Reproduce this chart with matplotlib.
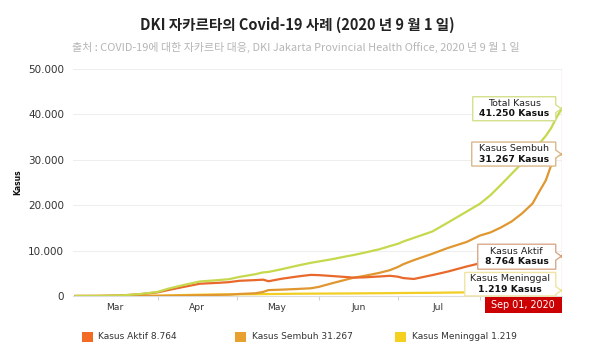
import matplotlib
matplotlib.use("Agg")
import matplotlib.pyplot as plt
import matplotlib.dates as mdates
from matplotlib.patches import Polygon, Rectangle
from matplotlib.transforms import IdentityTransform
import numpy as np
import pandas as pd

# --- DATA ---
dates = pd.to_datetime([
    '2020-03-01', '2020-03-10', '2020-03-18', '2020-03-25', '2020-04-01', '2020-04-05',
    '2020-04-10', '2020-04-17', '2020-04-24', '2020-04-28', '2020-05-02', '2020-05-08',
    '2020-05-11', '2020-05-13', '2020-05-18', '2020-05-24', '2020-05-29', '2020-06-01',
    '2020-06-06', '2020-06-12', '2020-06-14', '2020-06-18', '2020-06-24', '2020-06-28',
    '2020-07-01', '2020-07-03', '2020-07-07', '2020-07-14', '2020-07-20', '2020-07-27',
    '2020-08-01', '2020-08-05', '2020-08-09', '2020-08-13', '2020-08-17', '2020-08-21',
    '2020-08-23', '2020-08-26', '2020-08-28', '2020-08-30', '2020-09-01'])

total = [0, 20, 120, 400, 900, 1600, 2300, 3200, 3500, 3700, 4200, 4800,
         5200, 5300, 5900, 6700, 7300, 7600, 8100, 8800, 9000, 9500, 10300, 11000,
         11500, 12000, 12800, 14200, 16200, 18600, 20300, 22200, 24500, 26900, 29300, 32000,
         33200, 35300, 37000, 39300, 41250]
aktif = [0, 18, 110, 370, 800, 1300, 1900, 2700, 2900, 3050, 3350, 3500,
         3600, 3250, 3800, 4300, 4650, 4600, 4400, 4150, 4050, 4100, 4300, 4450,
         4250, 3950, 3750, 4600, 5400, 6500, 7200, 7400, 7900, 8400, 8700, 8900,
         8800, 8600, 8500, 8600, 8764]
sembuh = [0, 0, 5, 15, 30, 60, 100, 170, 250, 300, 450, 600,
          900, 1300, 1400, 1550, 1700, 2000, 2800, 3700, 4000, 4400, 5100, 5700,
          6400, 7000, 7900, 9300, 10600, 11900, 13300, 14000, 15100, 16400, 18200, 20400,
          22500, 25500, 28800, 30800, 31267]
meninggal = [0, 0, 5, 30, 80, 130, 200, 290, 340, 360, 380, 400,
             420, 430, 460, 500, 520, 530, 545, 560, 570, 590, 610, 630,
             650, 660, 680, 710, 750, 800, 840, 880, 910, 950, 990, 1040,
             1070, 1110, 1150, 1190, 1219]

month_labels = ['Mar', 'Apr', 'May', 'Jun', 'Jul']
legend_names = ['Kasus Aktif', 'Kasus Sembuh', 'Kasus Meninggal']
legend_values = [8764, 31267, 1219]

title = 'DKI 자카르타의 Covid-19 사례 (2020 년 9 월 1 일)'
subtitle = '출처 : COVID-19에 대한 자카르타 대응, DKI Jakarta Provincial Health Office, 2020 년 9 월 1 일'

c_total = '#c6d84c'
c_aktif = '#e8692b'
c_sembuh = '#e0972f'
c_mening = '#f2cd22'


def fmt(v):
    return f'{int(v):,}'.replace(',', '.')


# --- FIGURE ---
plt.rcParams['font.family'] = ['DejaVu Sans']
fig = plt.figure(figsize=(6, 3.5), dpi=100)
ax = fig.add_axes([73 / 600, 54 / 350, 489 / 600, 227 / 350])

ax.plot(dates, meninggal, color=c_mening, lw=1.6, zorder=3)
ax.plot(dates, sembuh, color=c_sembuh, lw=1.6, zorder=3)
ax.plot(dates, aktif, color=c_aktif, lw=1.6, zorder=3)
ax.plot(dates, total, color=c_total, lw=1.6, zorder=3)

x0 = mdates.date2num(pd.Timestamp('2020-02-29'))
x_end = mdates.date2num(dates[-1])
ax.set_xlim(x0, x_end + 0.1)
ax.set_ylim(0, 50000)

ax.set_yticks(np.arange(0, 50001, 10000))
ax.set_yticklabels([fmt(v) for v in np.arange(0, 50001, 10000)])
ax.tick_params(axis='y', length=0, pad=6.5, labelsize=7.5, labelcolor='#333333')
ax.grid(axis='y', color='#eeeeee', lw=0.8)
ax.set_axisbelow(True)

# month boundaries as ticks, month names in the middle
ax.set_xticks(pd.to_datetime(['2020-04-01', '2020-05-01', '2020-06-01', '2020-07-01', '2020-08-01']))
ax.set_xticklabels([])
ax.tick_params(axis='x', which='major', length=3, width=0.8, color='#d0d0d0')
mid = pd.to_datetime([f'2020-{m:02d}-16' for m in range(3, 8)])
ax.set_xticks(mid, minor=True)
ax.set_xticklabels(month_labels, minor=True)
ax.tick_params(axis='x', which='minor', length=0, pad=5, labelsize=6.6, labelcolor='#333333')

for s in ['top', 'right', 'left']:
    ax.spines[s].set_visible(False)
ax.spines['bottom'].set_color('#dddddd')
ax.spines['bottom'].set_linewidth(0.8)

# crosshair at last date
ax.axvline(x_end, color='#f3c6c6', lw=1, zorder=2)

fig.text(18 / 600, 1 - 182 / 350, 'Kasus', rotation=90, fontsize=5.5, fontweight='bold',
         ha='center', va='center', color='#111111')

fig.text(0.495, 1 - 25 / 350, title, fontsize=10.5, fontweight='bold', ha='center', va='center',
         color='#222222', family=['Noto Sans CJK KR', 'DejaVu Sans'])
fig.text(0.493, 1 - 47 / 350, subtitle, fontsize=7.9, ha='center', va='center',
         color='#b5b5b5', family=['Noto Sans CJK KR', 'DejaVu Sans'])

# --- CALLOUTS (pixel space, anchored to the last point of each series) ---
ident = IdentityTransform()


def callout(value, top, bottom, edge, w):
    px, py = ax.transData.transform((x_end, value))
    right = px - 6
    left = right - w
    top_px = py + top
    bot_px = py - bottom
    n_hi = min(py + 4, top_px)
    n_lo = max(py - 4, bot_px)
    verts = [(left, bot_px), (right, bot_px), (right, n_lo), (px - 0.5, py),
             (right, n_hi), (right, top_px), (left, top_px)]
    fig.add_artist(Polygon(verts, closed=True, transform=ident, facecolor='white',
                           edgecolor=edge, lw=1, zorder=5))
    return (left + right) / 2, (top_px + bot_px) / 2


boxes = [
    (total[-1], 12, 12, '#d6e08c', 83, 'Total Kasus'),
    (sembuh[-1], 12, 12, '#d9b98c', 84, 'Kasus Sembuh'),
    (aktif[-1], 12, 13, '#d9a98a', 78, 'Kasus Aktif'),
    (meninggal[-1], 18, 5.5, '#efe4a4', 91, 'Kasus Meninggal'),
]
for val, up, down, edge, w, name in boxes:
    cx, cy = callout(val, up, down, edge, w)
    fig.text(cx, cy + 5.5, name, transform=ident, fontsize=6.8, ha='center', va='center',
             color='#222222', zorder=6)
    fig.text(cx, cy - 5, f'{fmt(val)} Kasus', transform=ident, fontsize=6.7, ha='center',
             va='center', fontweight='bold', color='#111111', zorder=6)

# date flag under the crosshair
px, py = ax.transData.transform((x_end, 0))
fig.add_artist(Rectangle((px - 77, py - 17), 77, 16.5, transform=ident,
                         facecolor='#cc0000', edgecolor='none', zorder=7))
fig.text(px - 38.5, py - 8.7, dates[-1].strftime('%b %d, %Y'), transform=ident,
         fontsize=6.9, ha='center', va='center', color='white', zorder=8)

# --- LEGEND ---
leg_colors = ['#f26a24', '#e8a12e', '#f5d01e']
leg_x = [82, 235, 395]
for name, val, col, lx in zip(legend_names, legend_values, leg_colors, leg_x):
    fig.add_artist(Rectangle((lx, 350 - 342), 10.5, 10.5, transform=ident,
                             facecolor=col, edgecolor='none'))
    fig.text(lx + 16.5, 350 - 336.7, f'{name} {fmt(val)}', transform=ident,
             fontsize=6.5, ha='left', va='center', color='#333333')

fig.savefig('out.png', dpi=100)
print("Saved out.png")
